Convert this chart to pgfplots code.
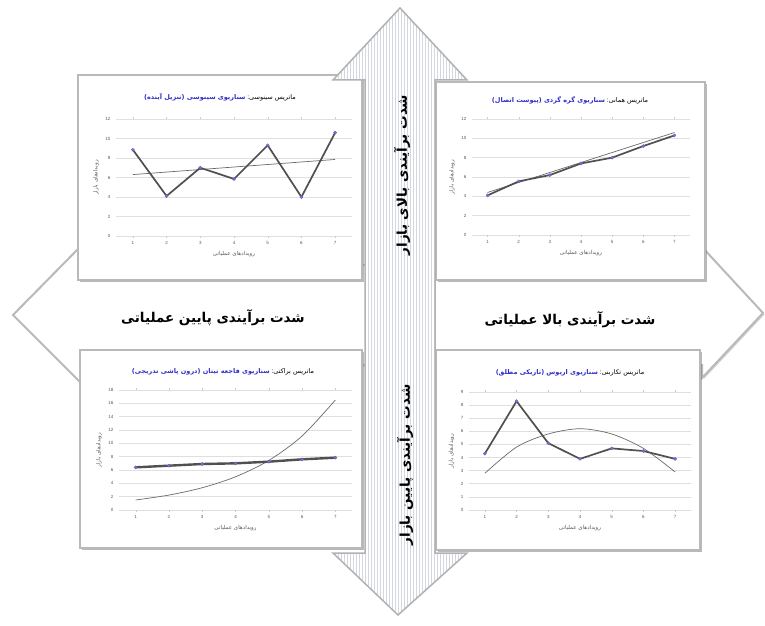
\documentclass[border=0pt]{standalone}
\usepackage{fontspec}
\setmainfont{Liberation Sans}
\newfontfamily\fa[Script=Arabic]{DejaVu Sans}
\usepackage{pgfplots}
\pgfplotsset{compat=1.18}
\usetikzlibrary{shadows}
\TeXXeTstate=1
\newcommand\rtl[1]{{\fa\beginR #1\endR}}

\definecolor{ttl}{HTML}{2F2FC8}
\definecolor{dkline}{HTML}{505050}
\definecolor{trendc}{HTML}{6A6A6A}
\definecolor{mk}{HTML}{7474E0}
\definecolor{arrowfill}{HTML}{D3D8E0}

\pgfplotsset{
  panel/.style={
    scale only axis,
    anchor=south west,
    xmin=0.5, xmax=7.5, ymin=0,
    xtick={1,...,7},
    axis line style={draw=none},
    ymajorgrids,
    grid style={gray!25, line width=0.6pt},
    /pgf/number format/assume math mode=true,
    tick label style={font=\fontsize{4.5}{5}\selectfont, text=gray!70!black},
    ytick style={draw=none},
    xtick style={gray!40},
    major tick length=2pt,
    tick align=outside,
    xlabel={\rtl{رویدادهای عملیاتی}},
    ylabel={\rtl{رویدادهای بازار}},
    label style={font=\fontsize{5.5}{6}\selectfont, text=gray!70!black},
    clip=false,
  },
  mainline/.style={line width=1.7pt, color=dkline, mark=*, mark size=1.6pt,
    mark options={fill=mk, draw=mk!80!black, line width=0.3pt}},
  trend/.style={line width=0.7pt, color=trendc, no marks},
}
\tikzset{frame/.style={fill=white, draw=gray!55, line width=1.5pt,
  drop shadow={opacity=0.55, shadow xshift=2pt, shadow yshift=-2pt}}}

\begin{document}
\begin{tikzpicture}[x=1pt, y=1pt]
\useasboundingbox (0,0) rectangle (765,625);
\fill[white] (0,0) rectangle (765,625);

% horizontal double arrow
\filldraw[fill=white, draw=gray!55, line width=2pt, line join=miter,
  drop shadow={opacity=0.35, shadow xshift=1.5pt, shadow yshift=-1.5pt}]
  (13,310) -- (80,378) -- (80,360) -- (702,360) -- (702,378) -- (763,312)
  -- (702,247) -- (702,260) -- (80,260) -- (80,243) -- cycle;

% panels
\filldraw[frame] (78,345) rectangle (362,550);
\filldraw[frame] (436,345) rectangle (705,543);
\filldraw[frame] (80,77) rectangle (362,275);
\filldraw[frame] (436,75) rectangle (700,275);

% top left: sine
\begin{axis}[panel, at={(116pt,389pt)}, width=236pt, height=117pt,
  ymax=12, ytick={0,2,...,12}]
\addplot[trend] coordinates {(1,6.3) (7,7.85)};
\addplot[mainline] coordinates {(1,8.85) (2,4.1) (3,7.0) (4,5.85) (5,9.3) (6,4.0) (7,10.6)};
\end{axis}

% top right: linear
\begin{axis}[panel, at={(472pt,390pt)}, width=218pt, height=116pt,
  ymax=12, ytick={0,2,...,12}]
\addplot[trend] coordinates {(1,4.4) (7,10.6)};
\addplot[mainline] coordinates {(1,4.1) (2,5.55) (3,6.2) (4,7.4) (5,8.0) (6,9.2) (7,10.3)};
\end{axis}

% bottom left: exponential
\begin{axis}[panel, at={(119pt,115pt)}, width=233pt, height=120pt,
  ymax=18, ytick={0,2,...,18}]
\addplot[trend, smooth] coordinates {(1,1.5) (2,2.24) (3,3.34) (4,4.98) (5,7.43) (6,11.1) (7,16.5)};
\addplot[mainline, line width=2.4pt] coordinates {(1,6.4) (2,6.65) (3,6.9) (4,7.0) (5,7.25) (6,7.6) (7,7.85)};
\end{axis}

% bottom right: parabola
\begin{axis}[panel, at={(469pt,115pt)}, width=222pt, height=118pt,
  ymax=9, ytick={0,1,...,9}]
\addplot[trend, smooth] coordinates {(1,2.8) (2,4.8) (3,5.8) (4,6.2) (5,5.8) (6,4.7) (7,2.9)};
\addplot[mainline] coordinates {(1,4.3) (2,8.3) (3,5.1) (4,3.9) (5,4.7) (6,4.5) (7,3.9)};
\end{axis}

% panel titles: blue part on the left, black part on the right
\node[font=\fontsize{6.5}{7}\selectfont] at (220,528)
  {{\color{ttl}\bfseries\fa\beginR سناریوی سینوسی (تنزیل آینده)\endR} :{\fa\beginR ماتریس سینوسی\endR}};
\node[font=\fontsize{6.5}{7}\selectfont] at (570,525)
  {{\color{ttl}\bfseries\fa\beginR سناریوی گره گردی (پیوست اتصال)\endR} :{\fa\beginR ماتریس همانی\endR}};
\node[font=\fontsize{6.5}{7}\selectfont] at (223,253)
  {{\color{ttl}\bfseries\fa\beginR سناریوی فاجعه تیتان (درون پاشی تدریجی)\endR} :{\fa\beginR ماتریس براکتی\endR}};
\node[font=\fontsize{6.5}{7}\selectfont] at (570,252)
  {{\color{ttl}\bfseries\fa\beginR سناریوی اریوس (تاریکی مطلق)\endR} :{\fa\beginR ماتریس تکاربنی\endR}};

% vertical double arrow with stripes
\begin{scope}
\clip (400,617) -- (467,545) -- (435,545) -- (435,72) -- (467,72) -- (398,10)
  -- (333,72) -- (365,72) -- (365,545) -- (333,545) -- cycle;
\fill[arrowfill] (330,5) rectangle (470,620);
\foreach \x in {331,334,...,470} \draw[white, line width=1.1pt] (\x,5) -- (\x,620);
\end{scope}
\draw[gray!60, line width=1.5pt, line join=miter]
  (400,617) -- (467,545) -- (435,545) -- (435,72) -- (467,72) -- (398,10)
  -- (333,72) -- (365,72) -- (365,545) -- (333,545) -- cycle;

% axis labels of the diagram
\node[font=\bfseries\fontsize{13.5}{15}\selectfont] at (213,307) {\fa\beginR شدت برآیندی پایین عملیاتی\endR};
\node[font=\bfseries\fontsize{13.5}{15}\selectfont] at (570,305) {\fa\beginR شدت برآیندی بالا عملیاتی\endR};
\node[font=\bfseries\fontsize{13.5}{15}\selectfont, rotate=90] at (402,450) {\fa\beginR شدت برآیندی بالای بازار\endR};
\node[font=\bfseries\fontsize{13.5}{15}\selectfont, rotate=90] at (405,160) {\fa\beginR شدت برآیندی پایین بازار\endR};
\end{tikzpicture}
\end{document}
